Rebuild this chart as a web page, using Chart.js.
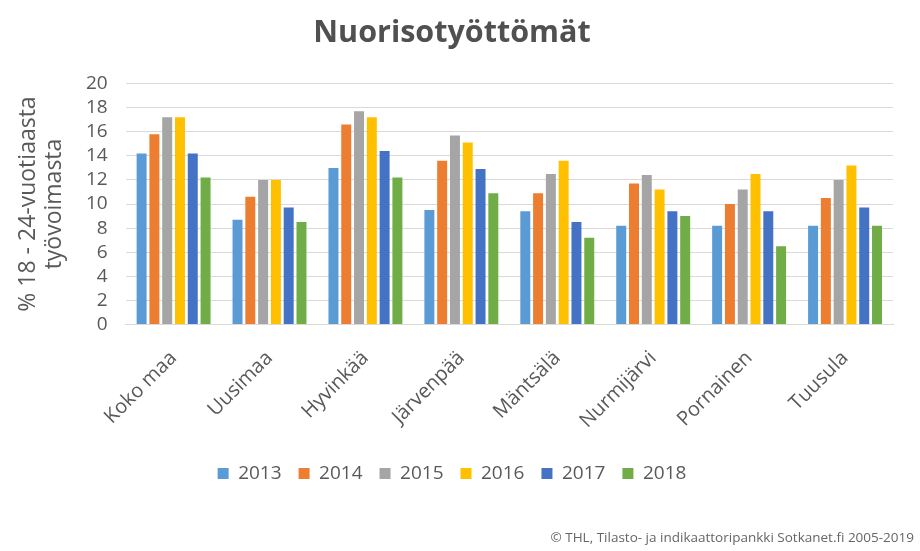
<!DOCTYPE html>
<html>
  <head>
    <title>Nuorisotyöttömät</title>
    <script src="https://cdn.jsdelivr.net/npm/chart.js"></script>
    <style>
      body { margin: 0; background: #fff; }
      #wrap { width: 920px; height: 551px; }
    </style>
  </head>
  <body>
    <div id="wrap"><canvas id="myChart"></canvas></div>
    <script>
      var alueet = ["Koko maa", "Uusimaa", "Hyvinkää", "Järvenpää", "Mäntsälä", "Nurmijärvi", "Pornainen", "Tuusula"];
      var vuodet = ["2013", "2014", "2015", "2016", "2017", "2018"];
      var varit = ["#5B9BD5", "#ED7D31", "#A5A5A5", "#FFC000", "#4472C4", "#70AD47"];

      // % 18-24-vuotiaasta työvoimasta, alue kerrallaan vuosittain
      var v2013 = [14.2, 8.7, 13.0, 9.5, 9.4, 8.2, 8.2, 8.2];
      var v2014 = [15.8, 10.6, 16.6, 13.6, 10.9, 11.7, 10.0, 10.5];
      var v2015 = [17.2, 12.0, 17.7, 15.7, 12.5, 12.4, 11.2, 12.0];
      var v2016 = [17.2, 12.0, 17.2, 15.1, 13.6, 11.2, 12.5, 13.2];
      var v2017 = [14.2, 9.7, 14.4, 12.9, 8.5, 9.4, 9.4, 9.7];
      var v2018 = [12.2, 8.5, 12.2, 10.9, 7.2, 9.0, 6.5, 8.2];
      var sarjat = [v2013, v2014, v2015, v2016, v2017, v2018];

      var lahde = "© THL, Tilasto- ja indikaattoripankki Sotkanet.fi 2005-2019";

      var teksti = "#595959";
      var fontti = "'Open Sans', 'DejaVu Sans', sans-serif";

      var datasets = vuodet.map(function (v, i) {
        return {
          label: v,
          data: sarjat[i],
          backgroundColor: varit[i],
          categoryPercentage: 0.8,
          barPercentage: 0.78
        };
      });

      // lähdeteksti oikeaan alakulmaan
      var lahdePlugin = {
        id: "lahde",
        afterDraw: function (chart) {
          var c = chart.ctx;
          c.save();
          c.font = "13.5px " + fontti;
          c.fillStyle = "#666666";
          c.textAlign = "right";
          c.textBaseline = "middle";
          c.fillText(lahde, chart.width - 6, chart.height - 13);
          c.restore();
        }
      };

      var ctx = document.getElementById("myChart").getContext("2d");
      var myChart = new Chart(ctx, {
        type: "bar",
        data: { labels: alueet, datasets: datasets },
        plugins: [lahdePlugin],
        options: {
          responsive: true,
          maintainAspectRatio: false,
          animation: false,
          layout: { padding: { left: 11, right: 27, top: 5, bottom: 58 } },
          plugins: {
            title: {
              display: true,
              text: "Nuorisotyöttömät",
              color: "#505050",
              font: { family: fontti, size: 30.5, weight: "bold" },
              padding: { top: 10, bottom: 32 }
            },
            legend: {
              position: "bottom",
              labels: {
                color: teksti,
                boxWidth: 11,
                boxHeight: 11,
                padding: 17,
                font: { family: fontti, size: 19 }
              }
            },
            tooltip: { enabled: false }
          },
          scales: {
            x: {
              grid: { display: false },
              border: { color: "#d9d9d9" },
              ticks: {
                color: teksti,
                maxRotation: 45,
                minRotation: 45,
                padding: 14,
                font: { family: fontti, size: 20 }
              }
            },
            y: {
              min: 0,
              max: 20,
              ticks: {
                stepSize: 2,
                autoSkip: false,
                color: teksti,
                padding: 18,
                font: { family: fontti, size: 19 }
              },
              grid: { color: "#d9d9d9", drawTicks: false },
              border: { display: false },
              title: {
                display: true,
                text: ["% 18 - 24-vuotiaasta", "työvoimasta"],
                color: teksti,
                font: { family: fontti, size: 23, lineHeight: 1.15 },
                padding: { top: 4, bottom: 0 }
              }
            }
          }
        }
      });
    </script>
  </body>
</html>
